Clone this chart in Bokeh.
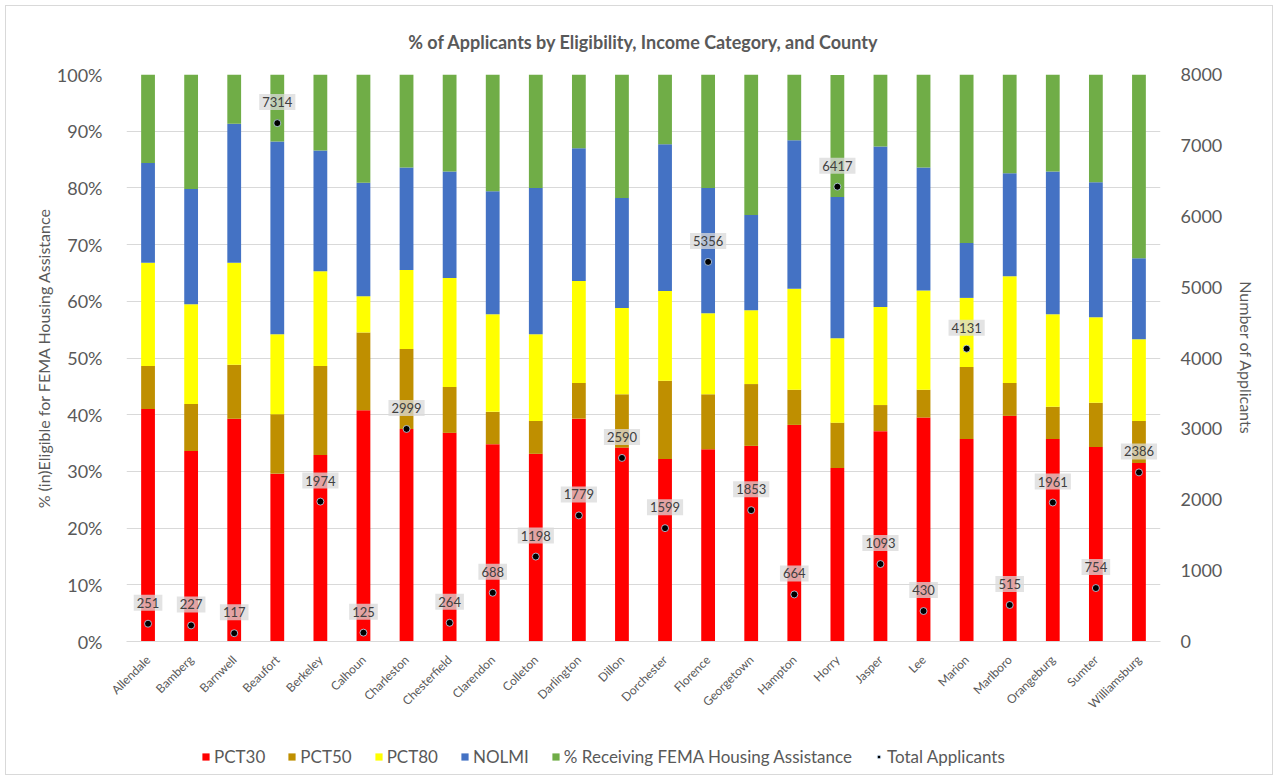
import math
from bokeh.plotting import figure
from bokeh.layouts import column
from bokeh.models import (ColumnDataSource, Range1d, LinearAxis, FixedTicker,
                          PrintfTickFormatter, Legend, LegendItem)
from bokeh.embed import file_html
from bokeh.resources import INLINE
from bokeh.core.properties import value

counties = ["Allendale", "Bamberg", "Barnwell", "Beaufort", "Berkeley", "Calhoun",
            "Charleston", "Chesterfield", "Clarendon", "Colleton", "Darlington", "Dillon",
            "Dorchester", "Florence", "Georgetown", "Hampton", "Horry", "Jasper", "Lee",
            "Marion", "Marlboro", "Orangeburg", "Sumter", "Williamsburg"]
pct30 = [41.0, 33.6, 39.3, 29.6, 32.9, 40.8, 37.5, 36.8, 34.8, 33.1, 39.3, 34.2,
         32.2, 33.9, 34.5, 38.2, 30.6, 37.1, 39.5, 35.7, 39.8, 35.7, 34.3, 31.5]
pct50 = [7.6, 8.3, 9.5, 10.5, 15.7, 13.7, 14.1, 8.1, 5.7, 5.8, 6.3, 9.4,
         13.8, 9.7, 10.9, 6.2, 8.0, 4.6, 4.9, 12.7, 5.8, 5.7, 7.8, 7.4]
pct80 = [18.2, 17.6, 18.0, 14.1, 16.7, 6.4, 13.9, 19.2, 17.2, 15.3, 18.0, 15.2,
         15.8, 14.3, 13.0, 17.8, 14.9, 17.3, 17.5, 12.2, 18.8, 16.3, 15.1, 14.4]
nolmi = [17.6, 20.3, 24.5, 34.0, 21.3, 20.0, 18.1, 18.8, 21.7, 25.8, 23.4, 19.4,
         25.9, 22.1, 16.8, 26.2, 24.9, 28.3, 21.7, 9.7, 18.2, 25.2, 23.8, 14.3]
receiving = [15.6, 20.2, 8.7, 11.8, 13.4, 19.1, 16.4, 17.1, 20.6, 20.0, 13.0, 21.8,
             12.3, 20.0, 24.8, 11.6, 21.5, 12.7, 16.4, 29.7, 17.4, 17.1, 19.0, 32.4]
total_applicants = [251, 227, 117, 7314, 1974, 125, 2999, 264, 688, 1198, 1779, 2590,
                    1599, 5356, 1853, 664, 6417, 1093, 430, 4131, 515, 1961, 754, 2386]
pct_ticks = [0, 10, 20, 30, 40, 50, 60, 70, 80, 90, 100]
app_ticks = [0, 1000, 2000, 3000, 4000, 5000, 6000, 7000, 8000]

series_names = ["PCT30", "PCT50", "PCT80", "NOLMI", "% Receiving FEMA Housing Assistance"]
keys = ["pct30", "pct50", "pct80", "nolmi", "receiving"]
colors = ["#FF0000", "#BF8F00", "#FFFF00", "#4472C4", "#70AD47"]

FONT = "Lato"
GRAY = "#595959"

source = ColumnDataSource(dict(county=counties, pct30=pct30, pct50=pct50, pct80=pct80,
                               nolmi=nolmi, receiving=receiving, apps=total_applicants,
                               apps_str=[str(v) for v in total_applicants]))

p = figure(x_range=counties, y_range=Range1d(0, 100), width=1266, height=729,
           output_backend="svg", toolbar_location=None,
           min_border_left=120, min_border_right=112, min_border_top=67, min_border_bottom=94)
p.extra_y_ranges = {"apps": Range1d(0, 8000)}
p.outline_line_color = None
p.background_fill_color = "white"
p.border_fill_color = "white"

p.title.text = "% of Applicants by Eligibility, Income Category, and County"
p.title.align = "center"
p.title.text_font = FONT
p.title.text_font_size = "18px"
p.title.text_font_style = "bold"
p.title.text_color = GRAY
p.title.standoff = 44

bars = p.vbar_stack(keys, x="county", width=0.32, color=colors, line_color=None, source=source)

dots = p.scatter(x="county", y="apps", y_range_name="apps", size=7, marker="circle",
                 fill_color="black", line_color="#c0d8f0", line_width=0.8, source=source)

p.text(x="county", y="apps", text="apps_str", y_range_name="apps", y_offset=-21,
       text_align="center", text_baseline="middle", text_font=value(FONT),
       text_font_size="13px", text_color="#404040",
       background_fill_color="#d9d9d9", background_fill_alpha=0.75,
       padding=3, source=source)

ax = p.yaxis[0]
ax.ticker = FixedTicker(ticks=pct_ticks)
ax.formatter = PrintfTickFormatter(format="%d%%")
ax.axis_label = "% (in)Eligible for FEMA Housing Assistance"

right = LinearAxis(y_range_name="apps", ticker=FixedTicker(ticks=app_ticks),
                   axis_label="Number of Applicants")
p.add_layout(right, "right")

for a in [ax, right]:
    a.axis_line_color = None
    a.major_tick_line_color = None
    a.minor_tick_line_color = None
    a.major_label_text_font = FONT
    a.major_label_text_font_size = "18px"
    a.major_label_text_color = GRAY
    a.axis_label_text_font = FONT
    a.axis_label_text_font_size = "16px"
    a.axis_label_text_font_style = "normal"
    a.axis_label_text_color = GRAY
ax.major_label_standoff = 18
ax.axis_label_standoff = 1
right.major_label_standoff = 14
right.axis_label_standoff = 12

xa = p.xaxis[0]
xa.major_label_orientation = math.pi / 4
xa.major_label_text_font = FONT
xa.major_label_text_font_size = "12px"
xa.major_label_text_color = GRAY
xa.axis_line_color = "#d9d9d9"
xa.major_tick_line_color = None
xa.minor_tick_line_color = None
xa.major_label_standoff = 10

p.xgrid.grid_line_color = None
p.ygrid.grid_line_color = "#d9d9d9"
p.ygrid.ticker = FixedTicker(ticks=pct_ticks)

# legend strip below the chart (its proxies share the data but lie outside the visible range)
lg = figure(width=1266, height=39, output_backend="svg", toolbar_location=None,
            x_range=counties, y_range=Range1d(1000, 1001), min_border=0)
lg.axis.visible = False
lg.grid.grid_line_color = None
lg.outline_line_color = None
lg_rends = [lg.vbar(x="county", top=k, width=0.3, color=c, line_color=None, source=source)
            for k, c in zip(keys, colors)]
lg_dot = lg.scatter(x="county", y="apps", size=7, marker="circle", fill_color="black",
                    line_color="#c0d8f0", line_width=0.8, source=source)
items = [LegendItem(label=n, renderers=[r]) for n, r in zip(series_names, lg_rends)]
items.append(LegendItem(label="Total Applicants", renderers=[lg_dot]))
legend = Legend(items=items, orientation="horizontal", location=(75, 7),
                label_text_font=FONT, label_text_font_size="17px", label_text_color=GRAY,
                glyph_width=9, glyph_height=9, spacing=22, label_standoff=4,
                border_line_color=None, background_fill_alpha=0, padding=4, margin=0)
lg.add_layout(legend)

layout = column(p, lg, spacing=0, margin=5,
                styles={"border": "1px solid #d9d9d9", "box-sizing": "content-box"})
open("out.html", "w").write(file_html(layout, INLINE))
